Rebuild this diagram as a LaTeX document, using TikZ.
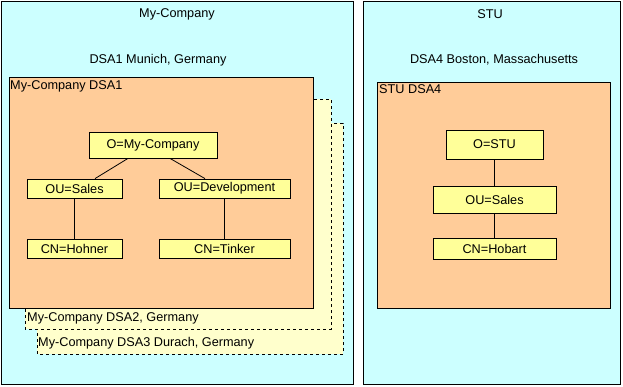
\documentclass[tikz,border=0pt]{standalone}
\usepackage{fontspec}
\setmainfont{Liberation Sans}
\begin{document}
\begin{tikzpicture}[x=1pt,y=-1pt,
  font=\fontsize{12.7}{14}\selectfont,
  container/.style={draw=black, line width=0.8pt, fill=cyanbg},
  dsa/.style={draw=black, line width=0.8pt, fill=peach},
  replica/.style={draw=black, line width=0.8pt, dashed, fill=lightyellow},
  entry/.style={draw=black, line width=0.8pt, fill=entryyellow, inner sep=0pt, anchor=center},
  conn/.style={draw=black, line width=0.8pt},
  lbl/.style={inner sep=0pt, anchor=north west}]
\definecolor{cyanbg}{HTML}{CCFFFF}
\definecolor{peach}{HTML}{FFCC99}
\definecolor{lightyellow}{HTML}{FFFFCC}
\definecolor{entryyellow}{HTML}{FFFF99}
\useasboundingbox (0,0) rectangle (623,387);
% outer containers
\draw[container] (1.5,1.5) rectangle (353,384);
\draw[container] (363,1.5) rectangle (620,384);
\node (t1) at (177,14) {My-Company};
\node (t2) at (158,60) {DSA1 Munich, Germany};
\node (t3) at (490,14) {STU};
\node (t4) at (494,60) {DSA4 Boston, Massachusetts};
% replicas
\draw[replica] (37,123) rectangle (343,354);
\draw[replica] (25,99) rectangle (331,329);
\draw[dsa] (9,77) rectangle (313,308);
\node[lbl] (l1) at (10,80) {My-Company DSA1};
\node[lbl] (l2) at (27,312) {My-Company DSA2, Germany};
\node[lbl] (l3) at (38,337) {My-Company DSA3 Durach, Germany};
\draw[dsa] (377,82) rectangle (610,308);
\node[lbl] (l4) at (379,84) {STU DSA4};
% entries left
\node[entry, minimum width=128, minimum height=26] (o1) at (153,145) {O=My-Company};
\node[entry, minimum width=95, minimum height=19] (ous) at (74.5,188.5) {OU=Sales};
\node[entry, minimum width=131, minimum height=19] (oud) at (224.5,188.5) {OU=Development};
\node[entry, minimum width=95, minimum height=19] (cnh) at (74.5,248.5) {CN=Hohner};
\node[entry, minimum width=131, minimum height=19] (cnt) at (224.5,248.5) {CN=Tinker};
\draw[conn] ([xshift=-25pt]o1.south) -- ([xshift=20.5pt]ous.north);
\draw[conn] ([xshift=17pt]o1.south) -- ([xshift=-19.5pt]oud.north);
\draw[conn] (ous.south) -- (cnh.north);
\draw[conn] (oud.south) -- (cnt.north);
% entries right
\node[entry, minimum width=97, minimum height=29] (o2) at (494.5,144.5) {O=STU};
\node[entry, minimum width=123, minimum height=27] (ous2) at (494.5,199.5) {OU=Sales};
\node[entry, minimum width=123, minimum height=21] (cnb) at (494.5,248.5) {CN=Hobart};
\draw[conn] (o2.south) -- (ous2.north);
\draw[conn] (ous2.south) -- (cnb.north);
\end{tikzpicture}
\end{document}
